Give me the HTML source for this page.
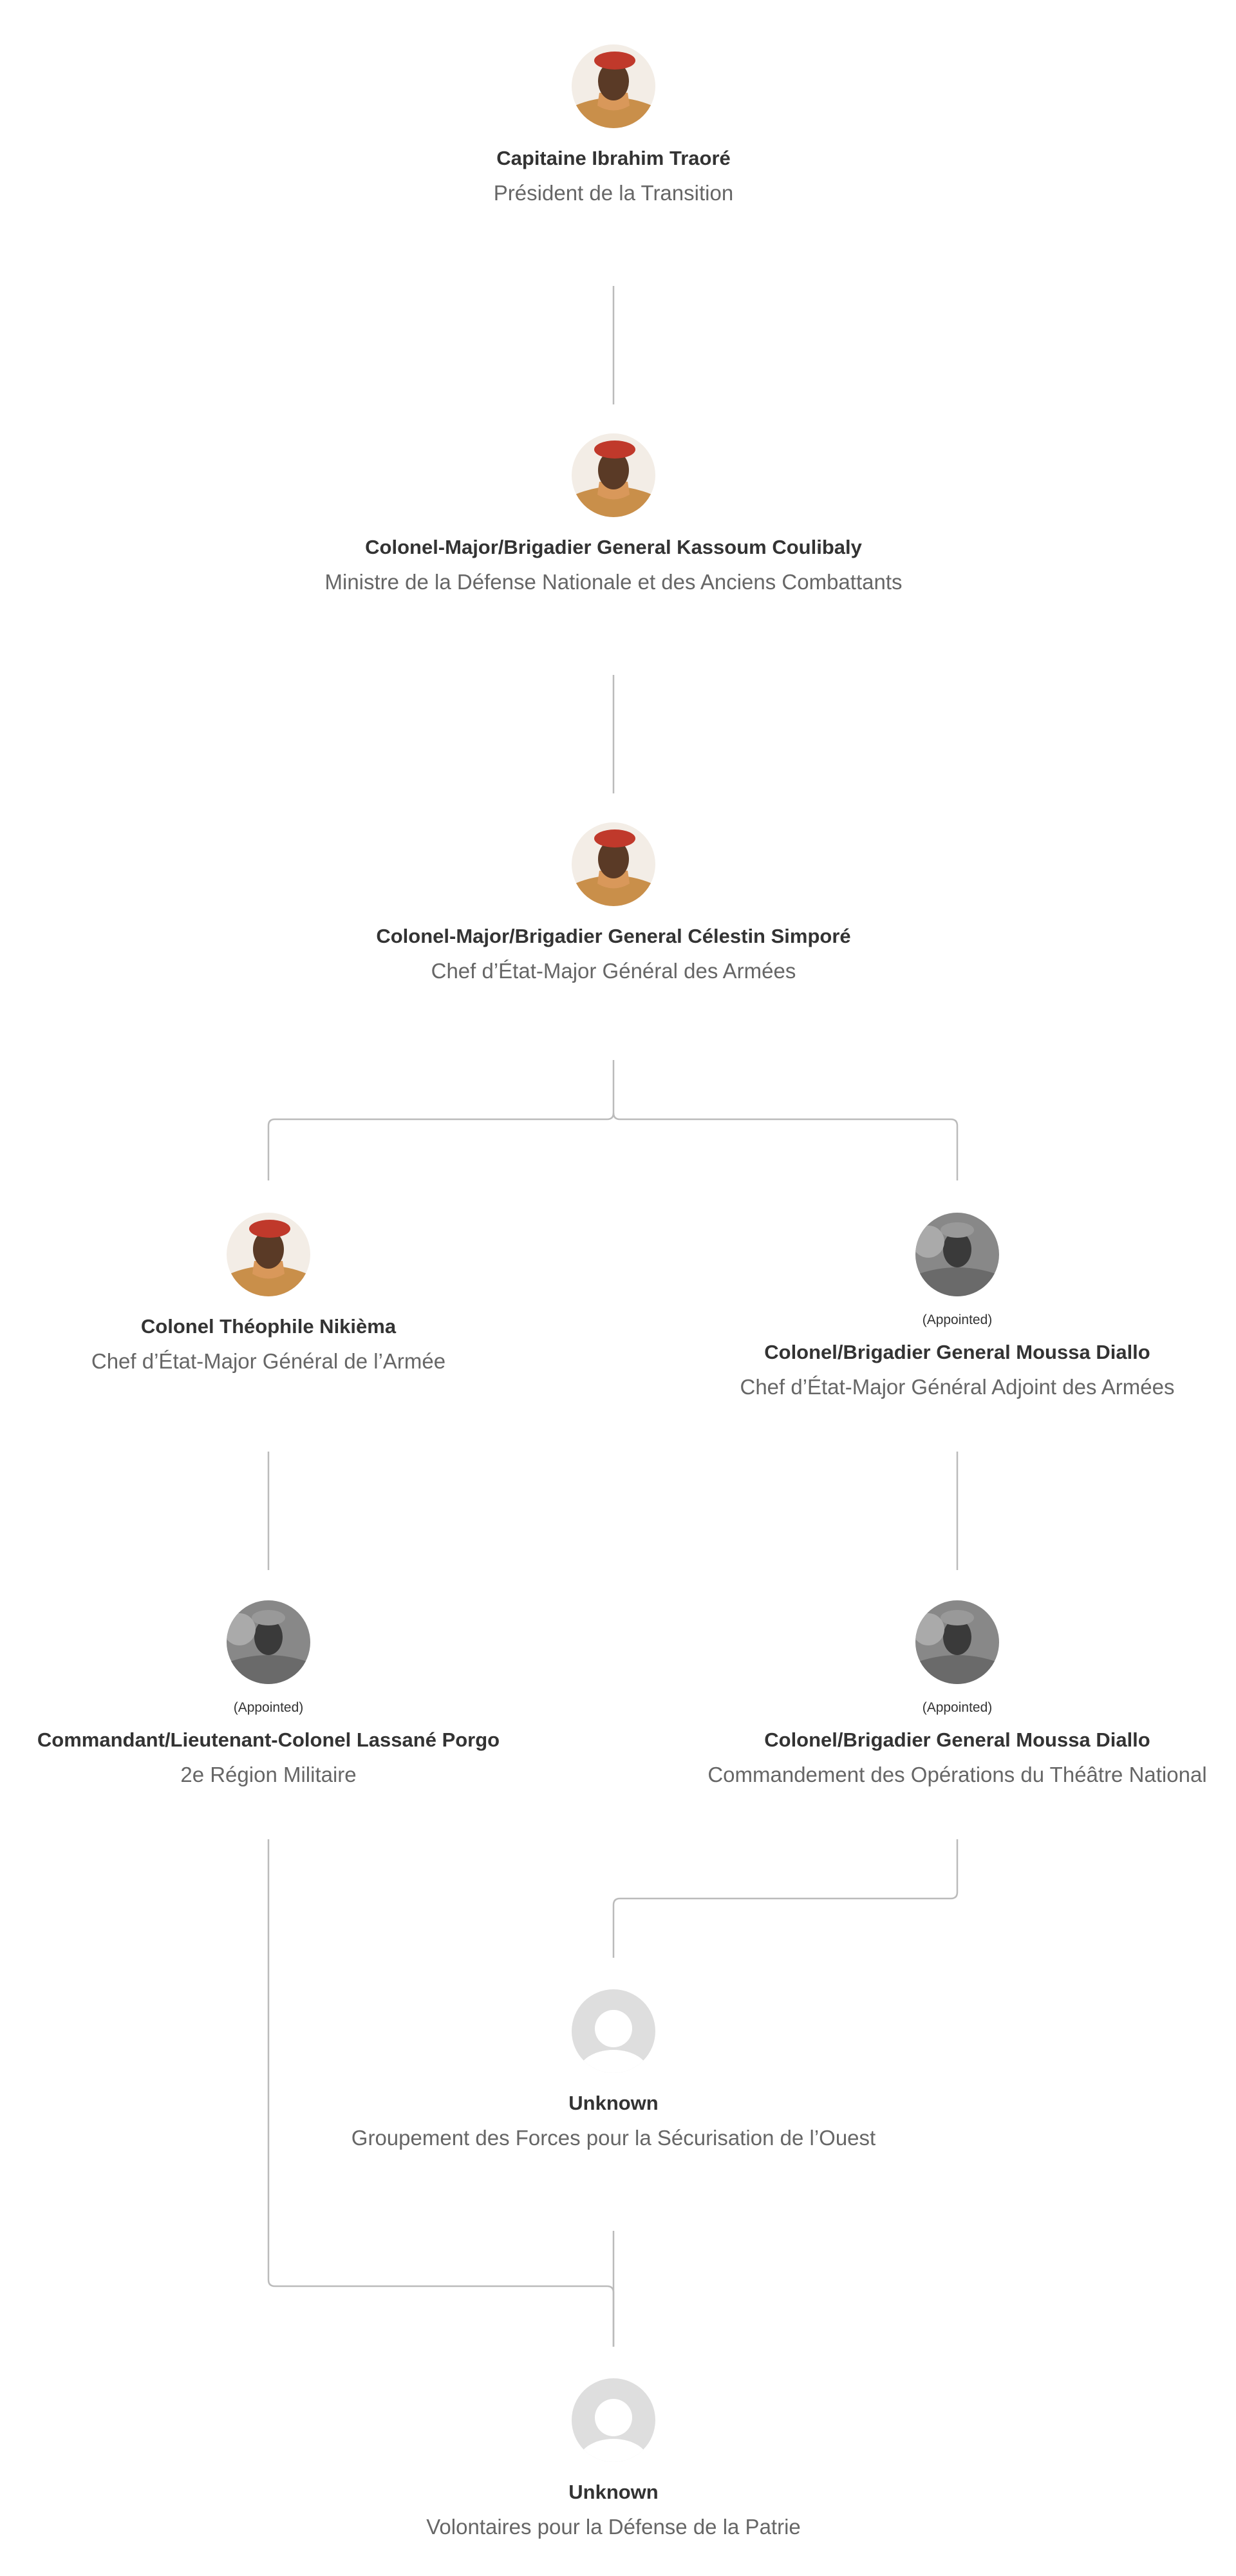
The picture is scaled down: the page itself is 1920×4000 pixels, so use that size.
<!DOCTYPE html>
<html><head><meta charset="utf-8">
<style>
html,body{margin:0;padding:0;background:#fff;}
svg{display:block;}
.n{font-family:"Liberation Sans",sans-serif;font-weight:bold;font-size:31px;fill:#333;text-anchor:middle;}
.s{font-family:"Liberation Sans",sans-serif;font-size:33px;fill:#666;text-anchor:middle;}
.a{font-family:"Liberation Sans",sans-serif;font-size:21px;fill:#333;text-anchor:middle;}
.l{stroke:#bbb;stroke-width:2.5;fill:none;}
</style></head><body>
<svg width="1920" height="4000" viewBox="0 0 1920 4000" xmlns="http://www.w3.org/2000/svg">
<defs>
<clipPath id="c"><circle cx="0" cy="0" r="65"/></clipPath>
<g id="colorP">
 <circle r="65" fill="#f3ede6"/>
 <g clip-path="url(#c)">
  <path d="M-70 70 L-60 30 Q0 5 60 30 L70 70Z" fill="#c98f4a"/>
  <path d="M-25 30 Q0 45 25 30 L22 10 L-22 10Z" fill="#d9985a"/>
  <ellipse cx="0" cy="-8" rx="24" ry="30" fill="#5a3a26"/>
  <ellipse cx="2" cy="-40" rx="32" ry="14" fill="#c0392b"/>
 </g>
</g>
<g id="grayP">
 <circle r="65" fill="#888"/>
 <g clip-path="url(#c)">
  <path d="M-70 70 L-60 30 Q0 10 60 30 L70 70Z" fill="#6a6a6a"/>
  <ellipse cx="0" cy="-8" rx="22" ry="28" fill="#3a3a3a"/>
  <ellipse cx="0" cy="-38" rx="26" ry="12" fill="#999"/>
  <circle cx="-45" cy="-20" r="25" fill="#aaa"/>
 </g>
</g>
<g id="unk">
 <circle r="65" fill="#dedede"/>
 <g clip-path="url(#c)">
  <circle cx="0" cy="-4" r="29" fill="#fff"/>
  <ellipse cx="0" cy="65" rx="55" ry="36" fill="#fff"/>
 </g>
</g>
</defs>

<!-- connectors -->
<path class="l" d="M953 444 V628"/>
<path class="l" d="M953 1048 V1232"/>
<path class="l" d="M953 1646 V1728 Q953 1738 943 1738 H427 Q417 1738 417 1748 V1833"/>
<path class="l" d="M953 1728 Q953 1738 963 1738 H1477 Q1487 1738 1487 1748 V1833"/>
<path class="l" d="M417 2254 V2438"/>
<path class="l" d="M1487 2254 V2438"/>
<path class="l" d="M1487 2856 V2938 Q1487 2948 1477 2948 H963 Q953 2948 953 2958 V3040"/>
<path class="l" d="M417 2856 V3540 Q417 3550 427 3550 H943 Q953 3550 953 3560 V3644"/>
<path class="l" d="M953 3464 V3644"/>

<!-- level 0 -->
<use href="#colorP" x="953" y="134"/>
<text class="n" x="953" y="256">Capitaine Ibrahim Traoré</text>
<text class="s" x="953" y="311">Président de la Transition</text>

<!-- level 1 -->
<use href="#colorP" x="953" y="738"/>
<text class="n" x="953" y="860">Colonel-Major/Brigadier General Kassoum Coulibaly</text>
<text class="s" x="953" y="915">Ministre de la Défense Nationale et des Anciens Combattants</text>

<!-- level 2 -->
<use href="#colorP" x="953" y="1342"/>
<text class="n" x="953" y="1464">Colonel-Major/Brigadier General Célestin Simporé</text>
<text class="s" x="953" y="1519">Chef d’État-Major Général des Armées</text>

<!-- level 3 -->
<use href="#colorP" x="417" y="1948"/>
<text class="n" x="417" y="2070">Colonel Théophile Nikièma</text>
<text class="s" x="417" y="2125">Chef d’État-Major Général de l’Armée</text>

<use href="#grayP" x="1487" y="1948"/>
<text class="a" x="1487" y="2056">(Appointed)</text>
<text class="n" x="1487" y="2110">Colonel/Brigadier General Moussa Diallo</text>
<text class="s" x="1487" y="2165">Chef d’État-Major Général Adjoint des Armées</text>

<!-- level 4 -->
<use href="#grayP" x="417" y="2550"/>
<text class="a" x="417" y="2658">(Appointed)</text>
<text class="n" x="417" y="2712">Commandant/Lieutenant-Colonel Lassané Porgo</text>
<text class="s" x="417" y="2767">2e Région Militaire</text>

<use href="#grayP" x="1487" y="2550"/>
<text class="a" x="1487" y="2658">(Appointed)</text>
<text class="n" x="1487" y="2712">Colonel/Brigadier General Moussa Diallo</text>
<text class="s" x="1487" y="2767">Commandement des Opérations du Théâtre National</text>

<!-- level 5 -->
<use href="#unk" x="953" y="3154"/>
<text class="n" x="953" y="3276">Unknown</text>
<text class="s" x="953" y="3331">Groupement des Forces pour la Sécurisation de l’Ouest</text>

<!-- level 6 -->
<use href="#unk" x="953" y="3758"/>
<text class="n" x="953" y="3880">Unknown</text>
<text class="s" x="953" y="3935">Volontaires pour la Défense de la Patrie</text>
</svg>
</body></html>
